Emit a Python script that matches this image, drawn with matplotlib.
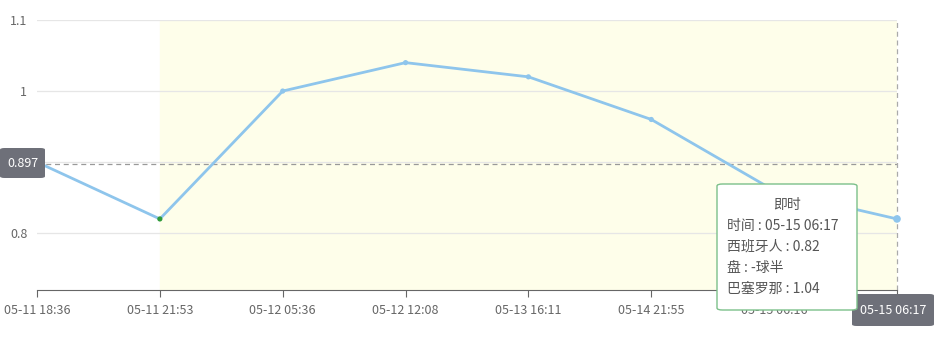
import matplotlib
matplotlib.use("Agg")
import matplotlib.pyplot as plt
from matplotlib.patches import FancyBboxPatch

plt.rcParams['font.family'] = ['Noto Sans CJK SC', 'DejaVu Sans']

times = ["05-11 18:36", "05-11 21:53", "05-12 05:36", "05-12 12:08",
         "05-13 16:11", "05-14 21:55", "05-15 06:16", "05-15 06:17"]
values = [0.90, 0.82, 1.00, 1.04, 1.02, 0.96, 0.86, 0.82]
y_ticks = [0.8, 0.9, 1.0, 1.1]
y_tick_labels = ["0.8", "", "1", "1.1"]
pointer_value = 0.897
tooltip_title = "即时"
tooltip_lines = ["时间 : 05-15 06:17", "西班牙人 : 0.82", "盘 : -球半", "巴塞罗那 : 1.04"]

W, H = 935, 340
fig = plt.figure(figsize=(W / 100, H / 100), dpi=100)
ax = fig.add_axes([37 / W, 1 - 290 / H, (897 - 37) / W, (290 - 20) / H])
x = list(range(len(times)))
ax.set_xlim(0, len(times) - 1)
ax.set_ylim(0.72, 1.1)

# mark area
ax.axvspan(1, len(times) - 1, color='#fefeea', zorder=0)

for yt in y_ticks:
    ax.axhline(yt, color='#e6e6e6', lw=0.9, zorder=1)

ax.plot(x, values, color='#8ec5ec', lw=2, zorder=3, solid_capstyle='round')
colors = ['#8ec5ec'] * len(values)
colors[1] = '#2e9a3a'
sizes = [14] * len(values)
sizes[-1] = 30
ax.scatter(x, values, s=sizes, c=colors, zorder=4, edgecolors='none', clip_on=False)

# axis pointers
ax.axhline(pointer_value, color='#999999', lw=0.9, ls=(0, (4, 3)), zorder=2)
ax.axvline(len(times) - 1, color='#aaaaaa', lw=0.9, ls=(0, (4, 3)), zorder=2, clip_on=False)

for s in ['top', 'right', 'left']:
    ax.spines[s].set_visible(False)
ax.spines['bottom'].set_color('#666666')
ax.set_xticks(x)
ax.set_xticklabels(times, fontsize=9, color='#666666')
ax.tick_params(axis='x', length=5, color='#666666', pad=5)
ax.set_yticks(y_ticks)
ax.set_yticklabels(y_tick_labels, fontsize=9, color='#666666')
ax.tick_params(axis='y', length=0, pad=7)

# pointer labels (figure pixel coords)
def px(xp, yp):
    return xp / W, 1 - yp / H

def label_box(x0, y0, w, h, text):
    b = FancyBboxPatch(px(x0, y0 + h), w / W, h / H,
                       boxstyle="round,pad=0,rounding_size=0.005",
                       transform=fig.transFigure, fc='#6e7079', ec='none', zorder=10)
    fig.add_artist(b)
    fig.text(*px(x0 + w / 2, y0 + h / 2), text, color='white', fontsize=9,
             ha='center', va='center', zorder=11)

label_box(0, 148, 45, 30, f"{pointer_value:.3f}")
label_box(852, 294, 82, 32, "05-15 06:17")

# tooltip
tb = FancyBboxPatch(px(717, 310), 140 / W, 126 / H,
                    boxstyle="round,pad=0,rounding_size=0.006",
                    transform=fig.transFigure, fc='white', ec='#7cc08a', lw=1, zorder=12)
fig.add_artist(tb)
fig.text(*px(787, 205), tooltip_title, fontsize=10, color='#555555',
         ha='center', va='center', zorder=13)
for i, line in enumerate(tooltip_lines):
    fig.text(*px(727, 226 + 21 * i), line, fontsize=10, color='#555555',
             ha='left', va='center', zorder=13)

fig.savefig("out.png", dpi=100)
